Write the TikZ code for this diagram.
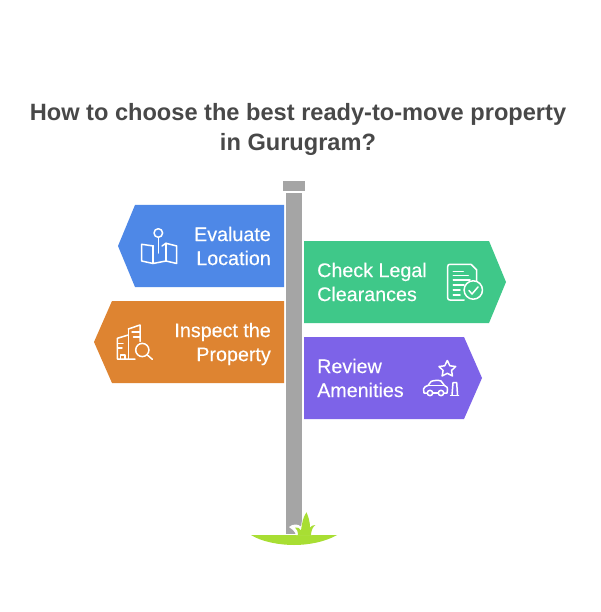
\documentclass[tikz,border=0pt]{standalone}
\usepackage{fontspec}
\setmainfont{Liberation Sans}
\newfontfamily\signfont[FakeBold=0.25]{Liberation Sans}
\definecolor{signblue}{HTML}{4E88E7}
\definecolor{signorange}{HTML}{DE8431}
\definecolor{signgreen}{HTML}{3FC889}
\definecolor{signpurple}{HTML}{7D63E8}
\definecolor{polegray}{HTML}{A5A5A5}
\definecolor{grass}{HTML}{A8DE33}
\definecolor{titlegray}{HTML}{484848}
\tikzset{
  signtext/.style={text=white,inner sep=0pt,font=\signfont\fontsize{19.7}{24}\selectfont},
  icon/.style={draw=white,line width=1.5pt,line join=round,line cap=round,fill=none},
  titletext/.style={text=titlegray,inner sep=0pt,align=center,font=\fontsize{23.6}{29.5}\selectfont\bfseries}
}
\begin{document}
\begin{tikzpicture}[x=1pt,y=-1pt]
\useasboundingbox (0,0) rectangle (600,612);
\fill[white] (0,0) rectangle (600,612);
\node[titletext] (title) at (298,129.5) {How to choose the best ready-to-move property\\in Gurugram?};
% pole
\fill[polegray] (286,193) rectangle (302,534);
\fill[polegray] (283,181) rectangle (305,191);
% signs
\fill[signblue] (135,205) -- (284,205) -- (284,287) -- (135,287) -- (118,246) -- cycle;
\fill[signorange] (112,301) -- (284,301) -- (284,383) -- (112,383) -- (94,342) -- cycle;
\fill[signgreen] (304,241) -- (489,241) -- (506,282) -- (489,323) -- (304,323) -- cycle;
\fill[signpurple] (304,337) -- (464,337) -- (482,378) -- (464,419) -- (304,419) -- cycle;
% labels
\node[signtext,align=right,anchor=east] (evaluate) at (271,246) {Evaluate\\Location};
\node[signtext,align=right,anchor=east] (inspect) at (271,344) {Inspect the\\Property};
\node[signtext,align=left,anchor=west] (legal) at (317,282) {Check Legal\\Clearances};
\node[signtext,align=left,anchor=west] (amenities) at (317,378) {Review\\Amenities};
% map icon
\draw[icon] (158.3,233) circle (4.3);
\draw[icon] (158.3,237.5) -- (158.3,253);
\draw[icon] (153.5,246) -- (141.7,244.3) -- (141.7,261) -- (153,263.5) -- (166,261) -- (176.7,263.5) -- (176.7,246) -- (166,243.3) -- (162,246);
\draw[icon] (153,246) -- (153,263.5) (166,243.3) -- (166,261);
% buildings icon
\draw[icon] (128.3,335) -- (117.3,338.3) -- (117.3,359) -- (135,359);
\draw[icon] (128.3,329) -- (128.3,359);
\draw[icon] (128.3,329) -- (140,325) -- (140,341.5);
\draw[icon] (132,332) -- (140,332) (133.5,337) -- (140,337);
\draw[icon] (118,343.3) -- (123,343.3) (118,348) -- (122,348);
\draw[icon] (120.7,359) -- (120.7,355) -- (125,355) -- (125,359);
\draw[icon] (142.3,350) circle (6.6);
\draw[icon] (147,354.7) -- (152.3,359.3);
% document icon
\draw[icon] (471,264.3) -- (450,264.3) .. controls (448.5,264.3) and (447.7,265) .. (447.7,266.5) -- (447.7,298) .. controls (447.7,299.5) and (448.5,300) .. (450,300) -- (464,300);
\draw[icon] (471,264.3) -- (476.7,270) -- (476.7,281);
\draw[icon] (453.3,271.7) -- (463.3,271.7) (453.3,275.7) -- (468.3,275.7) (453.3,280) -- (470,280) (453.3,285) -- (464,285) (453.3,290) -- (460,290) (453.3,295) -- (460,295);
\draw[icon] (473.3,290) circle (9.2);
\draw[icon] (469,290.5) -- (472,294) -- (478,287);
% amenities icon
\draw[icon] (447.3,360.5) -- (449.9,365.8) -- (455.7,366.5) -- (451.5,370.5) -- (452.5,376) -- (447.3,373.3) -- (442.1,376) -- (443.1,370.5) -- (439,366.5) -- (444.7,365.8) -- cycle;
\draw[icon] (427.3,393) -- (424,393) -- (423.5,389) .. controls (424,387) and (426,386) .. (428,385.5) -- (431,381.5) .. controls (433,380.3) and (439,380) .. (441,381) -- (444.5,385.5) .. controls (447,386.5) and (448,388) .. (447.5,390) -- (447,393) -- (443.7,393);
\draw[icon] (432.7,393) -- (438.3,393) (428,385.5) -- (444.5,385.5);
\draw[icon] (430,393) circle (2.7);
\draw[icon] (441,393) circle (2.7);
\draw[icon] (452,395.3) -- (453,382.7) -- (456.7,382.7) -- (457.5,395.3);
\draw[icon] (450.5,395.3) -- (458.5,395.3);
% grass
\fill[grass] (251,535) -- (337,535) .. controls (325,542) and (308,545) .. (294,545) .. controls (280,545) and (262,542) .. (251,535) -- cycle;
\fill[white] (289,527) .. controls (293,523.5) and (298,524) .. (301,526.5) .. controls (302,520) and (303,514) .. (307,508.5) .. controls (310,515) and (311.5,520) .. (311.5,523.5) .. controls (315,522) and (320,523) .. (324,525) .. controls (319,528) and (314,531) .. (312,535) -- (296,535) .. controls (295,531) and (292,529) .. (289,527) -- cycle;
\fill[grass] (295,527.5) .. controls (297.5,527) and (300,528) .. (301,530.5) .. controls (302,523) and (303,517) .. (306.5,512.3) .. controls (308.5,517) and (310,522) .. (310,527.5) .. controls (311,526) and (313,525) .. (315.5,525) .. controls (312.5,527) and (311,531) .. (311,535.5) -- (298,535.5) .. controls (298,531.5) and (297,529) .. (295,527.5) -- cycle;
\end{tikzpicture}
\end{document}
